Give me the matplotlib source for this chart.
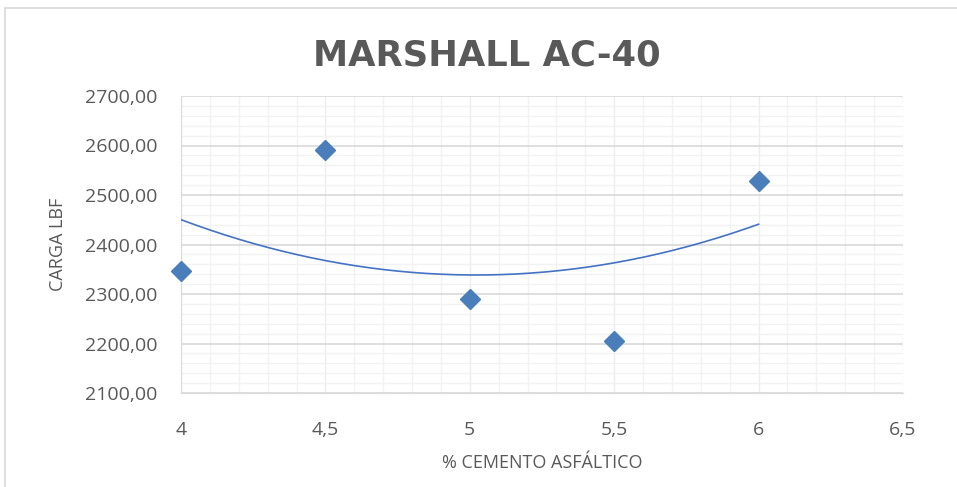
import numpy as np
import matplotlib
matplotlib.use('Agg')
import matplotlib.pyplot as plt
from matplotlib.ticker import MultipleLocator, FuncFormatter
from matplotlib.patches import Rectangle

# datos
pct_cemento = [4, 4.5, 5, 5.5, 6]
carga_lbf = [2347, 2590, 2290, 2205, 2528]

plt.rcParams['font.family'] = ['Open Sans', 'DejaVu Sans']

fig = plt.figure(figsize=(9.57, 4.87), dpi=100)
ax = fig.add_axes([181/957, 1-393/487, (903-181)/957, (393-96)/487])

# linea de tendencia polinomica de orden 2
coef = np.polyfit(pct_cemento, carga_lbf, 2)
xs = np.linspace(min(pct_cemento), max(pct_cemento), 200)
ax.plot(xs, np.polyval(coef, xs), color='#4472C4', lw=1.2, zorder=3)

ax.plot(pct_cemento, carga_lbf, 'D', color='#4A7EBB', ms=10, mec='#4A7EBB', zorder=4, clip_on=False)

ax.set_xlim(4, 6.5)
ax.set_ylim(2100, 2700)
ax.xaxis.set_major_locator(MultipleLocator(0.5))
ax.xaxis.set_minor_locator(MultipleLocator(0.1))
ax.yaxis.set_major_locator(MultipleLocator(100))
ax.yaxis.set_minor_locator(MultipleLocator(20))

def fmt_x(v, pos):
    s = ('%g' % v)
    return s.replace('.', ',')

ax.xaxis.set_major_formatter(FuncFormatter(fmt_x))
ax.yaxis.set_major_formatter(FuncFormatter(lambda v, p: ('%.2f' % v).replace('.', ',')))

ax.grid(which='major', axis='y', color='#D9D9D9', lw=1.2)
ax.grid(which='major', axis='x', color='#EDEDED', lw=1.0)
ax.grid(which='minor', color='#F2F2F2', lw=1.0)
ax.set_axisbelow(True)
for s in ['top', 'right']:
    ax.spines[s].set_visible(False)
ax.spines['left'].set_color('#D9D9D9')
ax.spines['bottom'].set_color('#D9D9D9')
ax.tick_params(which='both', length=0)
ax.tick_params(axis='x', pad=20, labelsize=14, colors='#595959')
ax.tick_params(axis='y', pad=17, labelsize=14, colors='#595959')

ax.set_xlabel('% CEMENTO ASFÁLTICO', fontsize=13, color='#595959', labelpad=11)
ax.set_ylabel('CARGA LBF', fontsize=13, color='#595959', labelpad=13)

fig.text(0.509, 1-55/487, 'MARSHALL AC-40', ha='center', va='center',
         fontsize=25.5, fontweight='bold', color='#595959',
         family=['DejaVu Sans'])

fig.patches.append(Rectangle((5/957, -0.1), 1.1, 1-8/487+0.1, transform=fig.transFigure,
                             fill=False, ec='#D9D9D9', lw=1.2))

fig.savefig('out.png', dpi=100)
